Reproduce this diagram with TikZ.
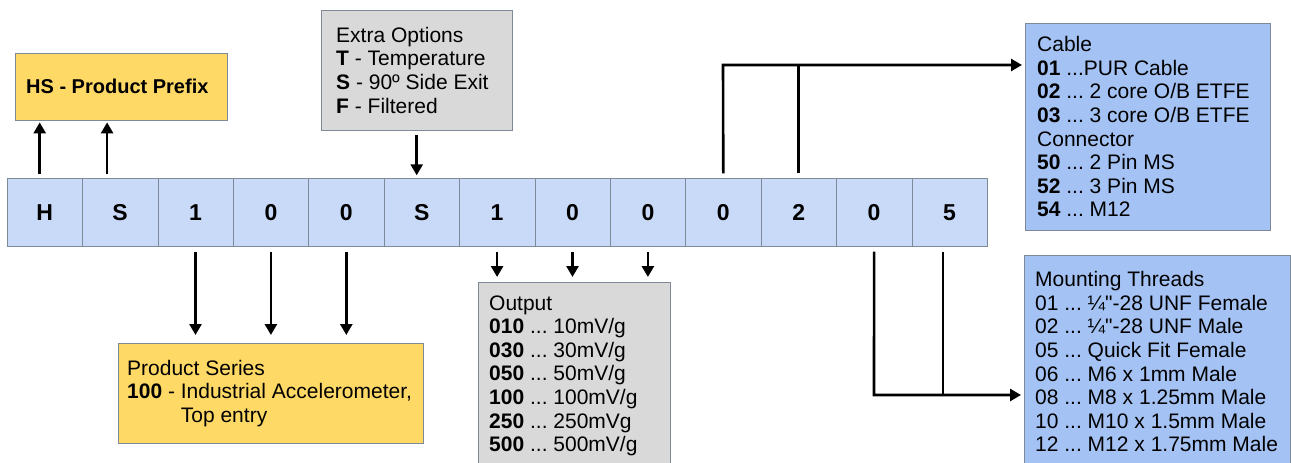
\documentclass[tikz,border=0pt]{standalone}
\usepackage{fontspec}
\setmainfont{Liberation Sans}
\usetikzlibrary{arrows.meta}
\frenchspacing

\definecolor{cellblue}{HTML}{C9DAF8}
\definecolor{boxblue}{HTML}{A4C2F4}
\definecolor{boxyellow}{HTML}{FFD966}
\definecolor{boxgray}{HTML}{D9D9D9}
\definecolor{edge}{HTML}{7F8A99}

\tikzset{
	cell/.style={draw=edge, fill=cellblue, minimum width=75.4pt, minimum height=68pt, inner sep=0pt, font=\fontsize{23}{26}\selectfont\bfseries},
	infobox/.style={draw=edge, anchor=north west, align=flush left, inner ysep=0pt, font=\fontsize{21}{23.6}\selectfont},
	arr/.style={line width=2.6pt, -{Triangle[width=12pt,length=11pt]}},
	link/.style={line width=2.6pt}
}

\begin{document}
\begin{tikzpicture}[x=1pt,y=-1pt]
		\path[fill=white,use as bounding box] (0,0) rectangle (1291,463);
		% code row
		\foreach \ch [count=\i] in {H,S,1,0,0,S,1,0,0,0,2,0,5}
			\node[cell] (c\i) at ({7+75.4*(\i-0.5)},212.5) {\ch};
		% boxes
		\node[infobox, fill=boxyellow, inner xsep=11pt, text width=190pt, minimum height=67pt, font=\fontsize{20}{23}\selectfont] (prefix) at (15,53) {\textbf{HS - Product Prefix}};
		\node[infobox, fill=boxgray, inner xsep=15pt, text width=161pt, minimum height=120pt] (extra) at (321,10) {Extra Options\\ \textbf{T} - Temperature\\ \textbf{S} - 90º Side Exit\\ \textbf{F} - Filtered};
		\node[infobox, fill=boxblue, inner xsep=12pt, text width=221pt, minimum height=207pt] (cable) at (1025,23) {Cable\\ \textbf{01} ...PUR Cable\\ \textbf{02} ... 2 core O/B ETFE\\ \textbf{03} ... 3 core O/B ETFE\\ Connector\\ \textbf{50} ... 2 Pin MS\\ \textbf{52} ... 3 Pin MS\\ \textbf{54} ... M12};
		\node[infobox, fill=boxblue, inner xsep=11pt, text width=244pt, minimum height=213pt] (mount) at (1024,255) {Mounting Threads\\ 01 ... ¼\textquotedbl-28 UNF Female\\ 02 ... ¼\textquotedbl-28 UNF Male\\ 05 ... Quick Fit Female\\ 06 ... M6 x 1mm Male\\ 08 ... M8 x 1.25mm Male\\ 10 ... M10 x 1.5mm Male\\ 12 ... M12 x 1.75mm Male};
		\node[infobox, fill=boxgray, inner xsep=11pt, text width=170pt, minimum height=187pt] (output) at (478,282) {Output\\ \textbf{010} ... 10mV/g\\ \textbf{030} ... 30mV/g\\ \textbf{050} ... 50mV/g\\ \textbf{100} ... 100mV/g\\ \textbf{250} ... 250mVg\\ \textbf{500} ... 500mV/g};
		\node[infobox, fill=boxyellow, inner xsep=9pt, text width=287pt, minimum height=100pt] (series) at (118,343) {Product Series\\ \textbf{100} - Industrial Accelerometer,\\ \phantom{\textbf{100} - }Top entry};
		% arrows up to the prefix
		\draw[arr, shorten >=2pt] ([xshift=-5pt,yshift=4pt]c1.north) -- ([xshift=-5pt]c1.north |- prefix.south);
		\draw[arr, shorten >=2pt] ([xshift=-13pt,yshift=4pt]c2.north) -- ([xshift=-13pt]c2.north |- prefix.south);
		% extra options
		\draw[arr, shorten <=5pt, shorten >=3pt] (extra.south) -- (extra.south |- c6.north);
		% series and output
		\foreach \i in {3,4,5}
			\draw[arr, shorten <=5pt, shorten >=8pt] (c\i.south) -- (c\i.south |- series.north);
		\foreach \i in {7,8,9}
			\draw[arr, shorten <=5pt, shorten >=5pt] (c\i.south) -- (c\i.south |- output.north);
		% cable / connector
		\coordinate (cabjoin) at (723,65);
		\draw[arr, shorten >=3pt] ([yshift=5pt]c10.north) -- (cabjoin) -- (cabjoin -| cable.west);
		\draw[link] ([yshift=5pt]c11.north) -- (c11.north |- cabjoin);
		% mounting threads
		\coordinate (mntjoin) at (874,395);
		\draw[arr, shorten >=3pt] ([yshift=-5pt]c12.south) -- (mntjoin) -- (mntjoin -| mount.west);
		\draw[link] ([xshift=-6.6pt,yshift=-5pt]c13.south) -- ([xshift=-6.6pt]c13.south |- mntjoin);
	\end{tikzpicture}
\end{document}
